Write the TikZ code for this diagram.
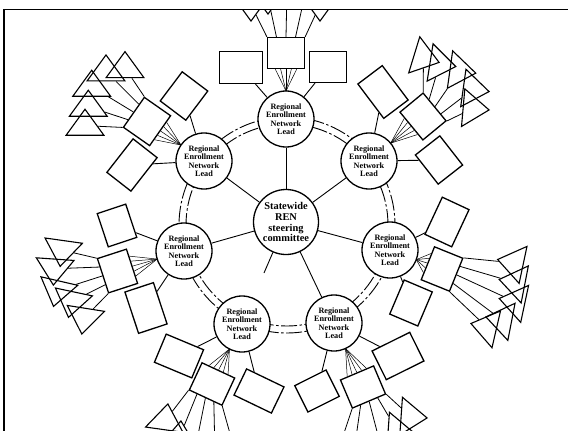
\documentclass[tikz,border=0pt]{standalone}
\usepackage{fontspec}
\setmainfont{Liberation Serif}
\usetikzlibrary{calc,shapes.geometric}
\begin{document}
\begin{tikzpicture}[x=1pt,y=-1pt,
  reg/.style={circle,draw,line width=1.3pt,fill=white,minimum size=56pt,inner sep=0pt,align=center,font=\fontsize{8.2}{8.4}\selectfont\bfseries},
  hub/.style={circle,draw,line width=1.3pt,fill=white,minimum size=65pt,inner sep=0pt,align=center,font=\fontsize{10.4}{10.9}\selectfont\bfseries},
  box/.style={draw,line width=1.3pt,fill=white,inner sep=0pt},
  bx/.style n args={3}{box,rotate=#1,minimum width=#2pt,minimum height=#3pt},
  tri/.style={draw,isosceles triangle,isosceles triangle apex angle=72,minimum height=26pt,inner sep=0pt,line width=1.1pt,anchor=apex,rotate=#1},
  spoke/.style={line width=0.9pt},
  fan/.style={line width=0.5pt},
  twig/.style={line width=0.8pt},
  ring/.style={line width=0.9pt,dash pattern=on 16pt off 2.5pt on 2.5pt off 2.5pt},
]
\useasboundingbox (0,0) rectangle (568,431);
\begin{scope}
\clip (4,9.5) rectangle (568,431);
% double ring
\draw[ring] (287,225) circle[radius=101pt];
\draw[ring,dash phase=9pt] (287,225) circle[radius=108pt];
% central and regional nodes
\node[hub] (hub) at (286,222) {Statewide\\REN\\steering\\committee};
\foreach \n/\p in {n1/{(286,119)},n2/{(369,161)},n3/{(390,250)},n4/{(334,323)},n5/{(242,324)},n6/{(184,251)},n7/{(204,161)}}
  \node[reg] (\n) at \p {Regional\\Enrollment\\Network\\Lead};
% spokes
\foreach \n in {n1,n2,n3,n4,n6,n7} \draw[spoke] (hub) -- (\n);
\coordinate (n5s) at ($(hub)!0.5!(n5)$);
\draw[spoke] (hub) -- (n5s);

% ---- boxes
\node[bx={0}{43}{32}] (n1a) at (241,67.5) {};
\node[bx={0}{37}{31}] (n1f) at (286,53) {};
\node[bx={0}{37}{31}] (n1c) at (328,67) {};

\node[bx={-53}{43}{30.5}] (n2a) at (383,92) {};
\node[bx={-50.5}{36}{30}] (n2f) at (423,116.5) {};
\node[bx={-52}{37}{31}] (n2c) at (439,160) {};

\node[bx={65}{41}{29.5}] (n3a) at (447,222) {};
\node[bx={-112}{35.5}{30.5}] (n3f) at (442,269) {};
\node[bx={67}{37}{30.5}] (n3c) at (411,303) {};

\node[bx={26.6}{35}{29.5}] (n4a) at (317,391) {};
\node[bx={-157}{36}{30.5}] (n4f) at (363,387) {};
\node[bx={26.4}{42}{32}] (n4c) at (398,356) {};

\node[bx={-22.7}{40.5}{30.5}] (n5a) at (179,356) {};
\node[bx={155}{36}{30}] (n5f) at (212,384) {};
\node[bx={-25.7}{41.5}{29}] (n5c) at (259,391) {};

\node[bx={-71.6}{35}{30}] (n6a) at (117,225.5) {};
\node[bx={108}{36}{30.5}] (n6f) at (117.5,271) {};
\node[bx={-71.7}{43.5}{30}] (n6c) at (146,308) {};

\node[bx={53}{36.5}{32}] (n7a) at (184,96) {};
\node[bx={55}{36.5}{32}] (n7f) at (147,121.5) {};
\node[bx={52}{42.5}{30.5}] (n7c) at (132,165) {};

% side connectors
\foreach \n in {n1,n2,n3,n4,n5,n6,n7} {
  \draw[spoke] (\n a) -- (\n);
  \draw[spoke] (\n c) -- (\n);
}
% fans
\foreach \n in {n1,n2,n3,n4,n5,n6,n7} {
  \coordinate (\n-p) at ($(\n)!28pt!(\n f)$);
  \foreach \k in {0.22,0.36,0.5,0.64,0.78}
    \draw[fan] (\n-p) -- ($(\n f.south west)!\k!(\n f.south east)$);
}

% ---- triangles
% top
\node[tri=-90] (n1t1) at (251,22) {};
\node[tri=-90] (n1t2) at (268,15) {};
\node[tri=-90] (n1t5) at (320,22) {};
\coordinate (n1e3) at (287,-10);
\coordinate (n1e4) at (306,-10);
% upper right
\node[tri=-17] (n2t1) at (440,62.7) {};
\node[tri=-9] (n2t2) at (456.7,66.7) {};
\node[tri=-8] (n2t3) at (476.7,73.3) {};
\node[tri=-8] (n2t4) at (490,91.7) {};
\node[tri=-5] (n2t5) at (490,110) {};
% right
\node[tri=168] (n3t1) at (496.7,259.3) {};
\node[tri=169] (n3t2) at (498.3,279.3) {};
\node[tri=168] (n3t3) at (498.3,298.3) {};
\node[tri=169] (n3t4) at (485,316.7) {};
\node[tri=167] (n3t5) at (470,323.3) {};
% bottom right
\node[tri=-4] (n4t1) at (428,418) {};
\node[tri=-4] (n4t2) at (415,433) {};
\coordinate (n4e3) at (385,462);
\coordinate (n4e4) at (352,465);
\coordinate (n4e5) at (335,460);
% bottom left
\node[tri=82] (n5t1) at (168,403) {};
\node[tri=85] (n5t2) at (181,420) {};
\coordinate (n5e3) at (195,450);
\coordinate (n5e4) at (215,455);
\coordinate (n5e5) at (236,455);
% left
\node[tri=-98] (n6t1) at (60,267.3) {};
\node[tri=-94] (n6t2) at (53.3,286) {};
\node[tri=-103] (n6t3) at (53.3,307.3) {};
\node[tri=-102] (n6t4) at (68.3,318.3) {};
\node[tri=-99] (n6t5) at (81.7,335) {};
% upper left
\node[tri=90] (n7t1) at (106,54) {};
\node[tri=90] (n7t2) at (125,50.7) {};
\node[tri=90] (n7t3) at (91.7,69.3) {};
\node[tri=90] (n7t4) at (88.3,89.3) {};
\node[tri=90] (n7t5) at (85,108.3) {};

% twigs from fan boxes to triangles
\foreach \n/\list in {n1/{0/n1t1,0.25/n1t2,0.5/n1e3,0.75/n1e4,1/n1t5},
                      n2/{0/n2t1,0.25/n2t2,0.5/n2t3,0.75/n2t4,1/n2t5},
                      n3/{0/n3t1,0.25/n3t2,0.5/n3t3,0.75/n3t4,1/n3t5},
                      n4/{0/n4t1,0.25/n4t2,0.5/n4e3,0.75/n4e4,1/n4e5},
                      n5/{0/n5e5,0.25/n5e4,0.5/n5e3,0.75/n5t2,1/n5t1},
                      n6/{0/n6t5,0.25/n6t4,0.5/n6t3,0.75/n6t2,1/n6t1},
                      n7/{0/n7t5,0.25/n7t4,0.5/n7t3,0.75/n7t1,1/n7t2}}
  \foreach \f/\t in \list
    \draw[twig] ($(\n f.north west)!\f!(\n f.north east)$) -- (\t);
\end{scope}
% frame
\draw[line width=1.8pt] (4,431) -- (4,9.5) -- (568,9.5);
\end{tikzpicture}
\end{document}
